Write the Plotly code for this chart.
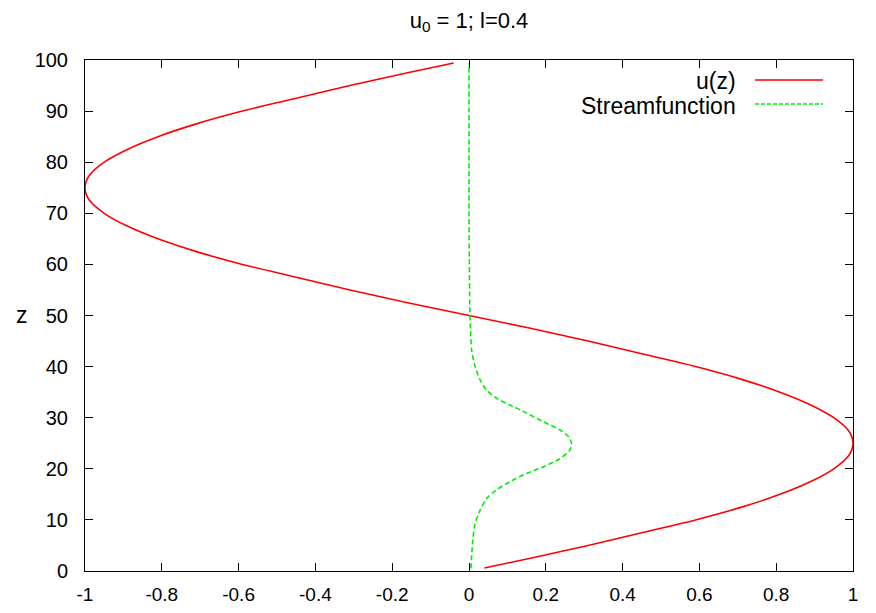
import plotly.graph_objects as go

# u(z) values
z_u = [0.6, 2.5, 5, 7.5, 10, 12.5, 15, 17.5, 20, 22.5, 23.75, 25, 26.25, 27.5, 30, 32.5, 35, 37.5, 40, 42.5, 45, 47.5, 50,
       52.5, 55, 57.5, 60, 62.5, 65, 67.5, 70, 72.5, 73.75, 75, 76.25, 77.5, 80, 82.5, 85, 87.5, 90, 92.5, 95, 97.5, 99.4]
u_vals = [0.04, 0.16, 0.31, 0.45, 0.59, 0.71, 0.81, 0.89, 0.95, 0.988, 0.997, 1.00, 0.997, 0.988, 0.95, 0.89, 0.81, 0.71, 0.59, 0.45, 0.31, 0.16, 0.0,
          -0.16, -0.31, -0.45, -0.59, -0.71, -0.81, -0.89, -0.95, -0.988, -0.997, -1.00, -0.997, -0.988, -0.95, -0.89, -0.81, -0.71, -0.59, -0.45, -0.31, -0.16, -0.04]

# Streamfunction values
z_s = [0.5, 6.1, 9.3, 11.9, 14.2, 15.9, 17.5, 19.1, 20.4, 22.0, 23.7, 25.0, 26.3, 27.6, 29.2, 30.9, 32.5, 33.8, 35.4, 37.4,
       40.0, 43.2, 47.2, 52.0, 60.0, 70.0, 80.0, 90.0, 99.4]
s_vals = [0.005, 0.010, 0.016, 0.029, 0.046, 0.072, 0.107, 0.150, 0.194, 0.237, 0.263, 0.267, 0.259, 0.237, 0.194, 0.150, 0.107, 0.072, 0.046, 0.029,
          0.016, 0.007, 0.004, 0.002, 0.001, 0.0, 0.0, 0.0, 0.0]

x_ticks = [-1, -0.8, -0.6, -0.4, -0.2, 0, 0.2, 0.4, 0.6, 0.8, 1]
x_labels = ["-1", "-0.8", "-0.6", "-0.4", "-0.2", "0", "0.2", "0.4", "0.6", "0.8", "1"]
y_ticks = [0, 10, 20, 30, 40, 50, 60, 70, 80, 90, 100]

FONT = "Liberation Sans, Arial, Helvetica, sans-serif"

# plot area in window pixels (page body has an 8px margin)
PL, PR, PT, PB = 85, 853, 60, 571
OFF = 8

def px(xpix):
    return (xpix - PL) / (PR - PL)

def py(ypix):
    return 1 - (ypix - PT) / (PB - PT)

fig = go.Figure()
fig.add_trace(go.Scatter(x=u_vals, y=z_u, mode="lines", name="u(z)",
                         line=dict(color="#ff0000", width=1.6, shape="spline")))
fig.add_trace(go.Scatter(x=s_vals, y=z_s, mode="lines", name="Streamfunction",
                         line=dict(color="#00ee00", width=1.6, dash="5px,3px", shape="spline", smoothing=0.8)))

axis_common = dict(showline=True, linecolor="black", linewidth=1, mirror="ticks",
                   ticks="inside", ticklen=8, tickcolor="black", tickwidth=1,
                   showgrid=False, zeroline=False, automargin=False)

fig.update_xaxes(range=[-1, 1], tickvals=x_ticks, ticktext=x_labels, ticklabelstandoff=6,
                 tickfont=dict(family=FONT, size=19, color="black"), **axis_common)
fig.update_yaxes(range=[0, 100], tickvals=y_ticks, ticklabelstandoff=12,
                 tickfont=dict(family=FONT, size=20, color="black"), **axis_common)

# legend drawn gnuplot-style (text then sample)
legend_items = [("u(z)", "#ff0000", "solid", 81, 80), ("Streamfunction", "#00ee00", "4px,2px", 106, 104)]
for text, color, dash, ytext, yline in legend_items:
    fig.add_annotation(text=text, xref="paper", yref="paper",
                       x=px(738), y=py(ytext), xanchor="right", yanchor="middle",
                       showarrow=False, font=dict(family=FONT, size=23, color="black"))
    fig.add_shape(type="line", xref="paper", yref="paper",
                  x0=px(755), x1=px(823), y0=py(yline), y1=py(yline),
                  line=dict(color=color, width=1.6, dash=dash))

fig.add_annotation(text="z", xref="paper", yref="paper", x=px(22),
                   y=py(315), xanchor="center", yanchor="middle",
                   showarrow=False, font=dict(family=FONT, size=23, color="black"))

W, H = 876 - OFF, 613 - OFF
fig.update_layout(
    width=W, height=H,
    margin=dict(l=PL - OFF, r=876 - PR, t=PT - OFF, b=613 - PB, autoexpand=False),
    plot_bgcolor="white", paper_bgcolor="white",
    showlegend=False,
    title=dict(text="u<sub>0</sub> = 1; l=0.4", x=0.5, xref="paper", xanchor="center",
               y=1 - (20 - OFF) / H, yanchor="middle",
               font=dict(family=FONT, size=22, color="black")),
)

fig.write_html("out.html")
